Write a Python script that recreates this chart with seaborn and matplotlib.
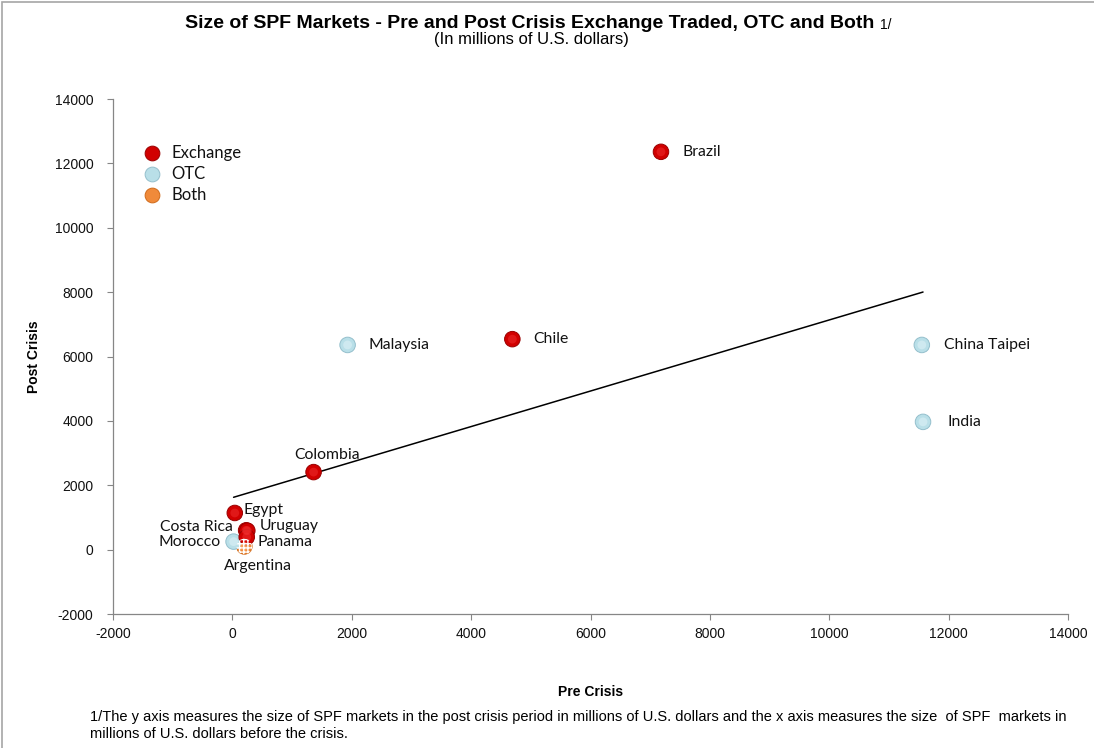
import matplotlib.pyplot as plt
import pandas as pd
import seaborn as sns
from matplotlib.patches import Rectangle

# ---------------- data ----------------
countries = ['Argentina', 'Morocco', 'India', 'China Taipei', 'Malaysia',
             'Costa Rica', 'Egypt', 'Colombia', 'Chile', 'Brazil',
             'Uruguay', 'Panama']
pre_crisis = [200, 20, 11570, 11550, 1930, 230, 40, 1360, 4690, 7180, 250, 240]
post_crisis = [100, 250, 3970, 6360, 6360, 600, 1140, 2410, 6540, 12360, 590, 390]
market_type = ['Both', 'OTC', 'OTC', 'OTC', 'OTC', 'Exchange', 'Exchange',
               'Exchange', 'Exchange', 'Exchange', 'Exchange', 'Exchange']
type_order = ['Exchange', 'OTC', 'Both']

df = pd.DataFrame({'country': countries, 'pre': pre_crisis,
                   'post': post_crisis, 'type': market_type})

# label placement (pixel offsets, horizontal alignment)
label_pos = {
    'Brazil': (22, 0, 'left'), 'Chile': (21, 0, 'left'),
    'Malaysia': (21, 0, 'left'), 'China Taipei': (22, 0, 'left'),
    'India': (24, 0, 'left'), 'Colombia': (13, 17, 'center'),
    'Egypt': (9, 3, 'left'), 'Costa Rica': (-13, 3, 'right'),
    'Uruguay': (12, 5, 'left'), 'Panama': (11, -5, 'left'),
    'Morocco': (-13, 0, 'right'), 'Argentina': (14, -20, 'center'),
}

colors = {'Exchange': '#d10000', 'OTC': '#b9dfe8', 'Both': '#f08a3a'}
edges = {'Exchange': '#9a0000', 'OTC': '#94bfcc', 'Both': '#d06a1a'}
lights = {'Exchange': '#f03030', 'OTC': '#e4f4f8', 'Both': '#ffb070'}

sns.set_theme(style='white')
plt.rcParams['font.family'] = ['Liberation Sans', 'DejaVu Sans']
plt.rcParams['axes.unicode_minus'] = False
plt.rcParams['text.color'] = 'black'
plt.rcParams['axes.labelcolor'] = 'black'
plt.rcParams['xtick.labelcolor'] = '#111111'
plt.rcParams['ytick.labelcolor'] = '#111111'

fig = plt.figure(figsize=(10.94, 7.48), dpi=100)
ax = fig.add_axes([0.1033, 0.1791, 0.8730, 0.6885])

# trend line (linear fit over all markets)
sns.regplot(data=df, x='pre', y='post', ax=ax, scatter=False, ci=None,
            truncate=True, line_kws=dict(color='black', lw=1.1, zorder=2))

sns.scatterplot(data=df, x='pre', y='post', hue='type', hue_order=type_order,
                palette=colors, s=125, ax=ax, zorder=3, linewidth=0.7)
ax.collections[-1].set_edgecolor([edges[t] for t in df['type']])

# sphere highlight
ax.scatter(df['pre'], df['post'], s=40,
           c=[lights[t] for t in df['type']], alpha=0.5, lw=0, zorder=4)

both = df[df['type'] == 'Both']
ax.scatter(both['pre'], both['post'], s=125, facecolor='none',
           edgecolor='white', hatch='++++', lw=0, zorder=5)

for name, x, y in zip(df['country'], df['pre'], df['post']):
    dx, dy, ha = label_pos[name]
    ax.annotate(name, (x, y), xytext=(dx, dy), textcoords='offset pixels',
                ha=ha, va='center', fontsize=11.3,
                family=['Lato', 'DejaVu Sans'], color='#111111', zorder=6)

ax.set_xlim(-2000, 14000)
ax.set_ylim(-2000, 14000)
ax.set_xticks(range(-2000, 14001, 2000))
ax.set_yticks(range(-2000, 14001, 2000))
ax.tick_params(axis='both', labelsize=10, length=4, width=0.8,
               color='#868686', direction='out', left=True, bottom=True)
ax.tick_params(axis='y', pad=10)
ax.tick_params(axis='x', pad=5)
for side in ['top', 'right']:
    ax.spines[side].set_visible(False)
for side in ['left', 'bottom']:
    ax.spines[side].set_color('#868686')
    ax.spines[side].set_linewidth(0.9)

ax.set_xlabel('Pre Crisis', fontsize=10, fontweight='bold')
ax.set_ylabel('Post Crisis', fontsize=10, fontweight='bold')
ax.xaxis.set_label_coords(0.5, -0.138)
ax.yaxis.set_label_coords(-0.0755, 0.5)

leg = ax.legend(loc='upper left', bbox_to_anchor=(0.016, 0.923), frameon=False,
                prop={'family': ['Lato', 'DejaVu Sans'], 'size': 12},
                handletextpad=0.2, labelspacing=0.3, markerscale=0.95,
                borderaxespad=0)
for h, t in zip(leg.legend_handles, type_order):
    try:
        h.set_markeredgecolor(edges[t])
    except AttributeError:
        h.set_edgecolor(edges[t])
for txt in leg.get_texts():
    txt.set_color('#111111')

fig.text(0.4845, 0.968, 'Size of SPF Markets - Pre and Post Crisis Exchange '
         'Traded, OTC and Both', ha='center', va='center', fontsize=14,
         fontweight='bold')
fig.text(0.8044, 0.967, '1/', ha='left', va='center', fontsize=10)
fig.text(0.4858, 0.947, '(In millions of U.S. dollars)', ha='center',
         va='center', fontsize=12)

fig.text(0.082, 0.0300,
         '1/The y axis measures the size of SPF markets in the post crisis '
         'period in millions of U.S. dollars and the x axis measures the size '
         ' of SPF  markets in\nmillions of U.S. dollars before the crisis.',
         ha='left', va='center', fontsize=10.5, linespacing=1.35)

fig.patches.append(Rectangle((0.002, -0.01), 1.1, 1.007,
                             transform=fig.transFigure, fill=False,
                             edgecolor='#a6a6a6', lw=1.2))

fig.savefig('out.png', dpi=100)
